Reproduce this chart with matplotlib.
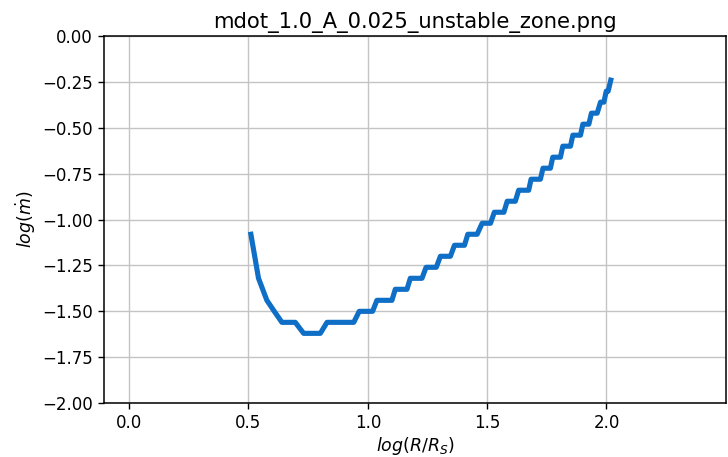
import matplotlib
matplotlib.use("Agg")
import matplotlib.pyplot as plt

# log(R/R_S) and log(mdot) along the boundary of the unstable zone
log_r = [0.510, 0.542, 0.577, 0.608, 0.640, 0.696, 0.731, 0.801, 0.829, 0.941,
         0.964, 1.020, 1.038, 1.101, 1.115, 1.164, 1.178, 1.227, 1.244, 1.287,
         1.304, 1.346, 1.363, 1.405, 1.419, 1.458, 1.479, 1.514, 1.530, 1.570,
         1.584, 1.618, 1.632, 1.674, 1.684, 1.723, 1.734, 1.765, 1.775, 1.807,
         1.817, 1.849, 1.859, 1.891, 1.901, 1.926, 1.937, 1.961, 1.975, 1.989,
         1.999, 2.007, 2.018]
log_mdot = [-1.08, -1.32, -1.44, -1.50, -1.56, -1.56, -1.62, -1.62, -1.56, -1.56,
            -1.50, -1.50, -1.44, -1.44, -1.38, -1.38, -1.32, -1.32, -1.26, -1.26,
            -1.20, -1.20, -1.14, -1.14, -1.08, -1.08, -1.02, -1.02, -0.96, -0.96,
            -0.90, -0.90, -0.84, -0.84, -0.78, -0.78, -0.72, -0.72, -0.66, -0.66,
            -0.60, -0.60, -0.54, -0.54, -0.48, -0.48, -0.42, -0.42, -0.36, -0.36,
            -0.30, -0.30, -0.24]

x_ticks = [0.0, 0.5, 1.0, 1.5, 2.0]
y_ticks = [-2.00, -1.75, -1.50, -1.25, -1.00, -0.75, -0.50, -0.25, 0.00]

fig = plt.figure(figsize=(7.28, 4.57), dpi=100)
ax = fig.add_axes([0.143, 0.118, 0.854, 0.803])

ax.plot(log_r, log_mdot, color="#0F6EC6", lw=3.7)

ax.set_xlim(-0.105, 2.5)
ax.set_ylim(-2.0, 0.0)
ax.set_xticks(x_ticks)
ax.set_xticklabels([f"{t:.1f}" for t in x_ticks])
ax.set_yticks(y_ticks)
ax.set_yticklabels([f"{t:.2f}".replace("-", "\u2212") for t in y_ticks])
ax.grid(True, color="#c4c4c4", lw=1.0)
ax.set_axisbelow(True)
ax.tick_params(labelsize=12, length=4.5, width=1.0)
for s in ax.spines.values():
    s.set_linewidth(1.1)

ax.set_xlabel(r"$log(R/R_S)$", fontsize=12.5, labelpad=2)
ax.set_ylabel(r"$log(\dot{m})$", fontsize=12.5, labelpad=3)
ax.set_title("mdot_1.0_A_0.025_unstable_zone.png", fontsize=15.2)

fig.savefig("out.png", dpi=100)
